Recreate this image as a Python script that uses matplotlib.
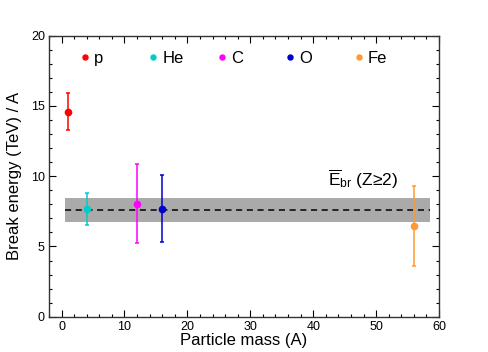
#!/usr/bin/env python3

import numpy as np
import matplotlib
matplotlib.use("Agg")
import matplotlib.pyplot as plt
from matplotlib.ticker import MultipleLocator

plt.rcParams['font.family'] = ['Liberation Sans', 'DejaVu Sans']
plt.rcParams['mathtext.fontset'] = 'custom'
plt.rcParams['mathtext.rm'] = 'Liberation Sans'
plt.rcParams['mathtext.it'] = 'Liberation Sans:italic'

names = ["p", "He", "C", "O", "Fe"]
mass = [1, 4, 12, 16, 56]
ebr = [14.6, 7.65, 8.05, 7.7, 6.45]
err_lo = [1.3, 1.1, 2.8, 2.4, 2.85]
err_hi = [1.3, 1.15, 2.8, 2.35, 2.85]
colors = ["#ff0000", "#00cccc", "#ff00ff", "#0000cc", "#ff9933"]

mean_ebr = 7.6
band_lo, band_hi = 6.72, 8.47
band_x = [0.5, 58.6]

fig = plt.figure(figsize=(4.88, 3.52), dpi=100)
ax = fig.add_axes([49/488, 1 - 316.7/352, (439-49)/488, (316.7-35.7)/352])

ax.fill_between(band_x, band_lo, band_hi, color="#aaaaaa", lw=0, zorder=1)
ax.plot(band_x, [mean_ebr, mean_ebr], color="black", ls=(0, (4, 3)), lw=1.1, zorder=2)

handles = []
for n, m, e, lo, hi, c in zip(names, mass, ebr, err_lo, err_hi, colors):
    h = ax.errorbar(m, e, yerr=[[lo], [hi]], fmt="o", color=c, ms=4.5, lw=1.1,
                    capsize=1.2, capthick=1.1, zorder=3, label=n)
    handles.append(h[0])

ax.text(42.4, 9.3, r"$\overline{\rm E}_{\rm br}$ (Z≥2)", fontsize=12.5)

ax.set_xlim(-2, 60)
ax.set_ylim(0, 20)
ax.xaxis.set_major_locator(MultipleLocator(10))
ax.xaxis.set_minor_locator(MultipleLocator(2))
ax.yaxis.set_major_locator(MultipleLocator(5))
ax.yaxis.set_minor_locator(MultipleLocator(1))
ax.tick_params(which="both", direction="in", top=True, right=True, labelsize=9, width=0.8, pad=3)
ax.tick_params(which="major", length=5)
ax.tick_params(which="minor", length=2.5)
for s in ax.spines.values():
    s.set_linewidth(1.0)
    s.set_color("#333333")

ax.set_xlabel("Particle mass (A)", fontsize=12, labelpad=0)
ax.set_ylabel("Break energy (TeV) / A", fontsize=12, labelpad=6)

# equal-width legend columns, one legend per entry
for i, (h, n) in enumerate(zip(handles, names)):
    fig.legend([h], [n], loc="center left", bbox_to_anchor=(0.083 + i*0.1756, 0.92),
               bbox_transform=ax.transAxes, frameon=False, fontsize=12,
               handlelength=0.4, handletextpad=0.35, markerscale=0.8,
               borderpad=0, borderaxespad=0)

plt.savefig("out.png", dpi=100)
